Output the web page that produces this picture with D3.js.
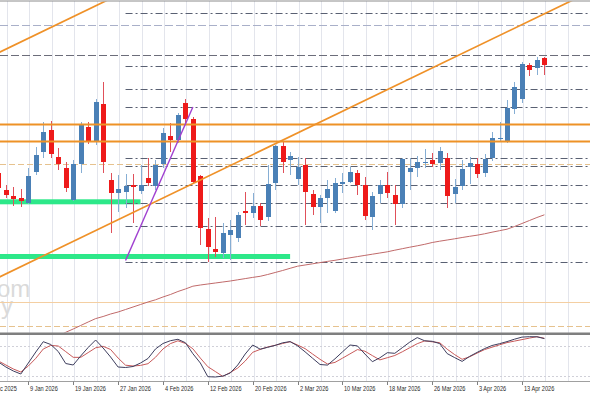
<!DOCTYPE html>
<html>
<head>
<meta charset="utf-8">
<script src="https://cdn.jsdelivr.net/npm/d3@7"></script>
<style>
  html, body { margin: 0; padding: 0; background: #fff; overflow: hidden; }
  svg { display: block; }
</style>
</head>
<body>
<svg id="chart" width="590" height="393"></svg>
<script>
// daily bars, 5 Jan - 16 Apr 2026
const dates = [
  '2026-01-05','2026-01-06','2026-01-07','2026-01-08','2026-01-09',
  '2026-01-12','2026-01-13','2026-01-14','2026-01-15','2026-01-16',
  '2026-01-19','2026-01-20','2026-01-21','2026-01-22','2026-01-23',
  '2026-01-26','2026-01-27','2026-01-28','2026-01-29','2026-01-30',
  '2026-02-02','2026-02-03','2026-02-04','2026-02-05','2026-02-06',
  '2026-02-09','2026-02-10','2026-02-11','2026-02-12','2026-02-13',
  '2026-02-16','2026-02-17','2026-02-18','2026-02-19','2026-02-20',
  '2026-02-23','2026-02-24','2026-02-25','2026-02-26','2026-02-27',
  '2026-03-02','2026-03-03','2026-03-04','2026-03-05','2026-03-06',
  '2026-03-09','2026-03-10','2026-03-11','2026-03-12','2026-03-13',
  '2026-03-16','2026-03-17','2026-03-18','2026-03-19','2026-03-20',
  '2026-03-23','2026-03-24','2026-03-25','2026-03-26','2026-03-27',
  '2026-03-30','2026-03-31','2026-04-01','2026-04-02','2026-04-03',
  '2026-04-06','2026-04-07','2026-04-08','2026-04-09','2026-04-10',
  '2026-04-13','2026-04-14','2026-04-15','2026-04-16'
];
const open = [327,310,304,302,297, 328,348,370,343,332, 300,336,373,358,396, 320,307,308,315,309,
  322,314,336,364,360, 397,381,324,271,251, 247,265,262,289,287, 294,283,317,354,340,
  321,335,306,293,302, 289,316,318,327,315, 283,306,315,305,296, 328,332,337,340,337,
  342,306,314,333,336, 327,342,361,359,391, 401,435,432,442];
const high = [332,315,313,311,332, 353,378,379,352,338, 340,378,378,401,418, 327,325,326,326,335,
  342,340,372,377,387, 401,383,325,282,283, 277,280,288,308,307, 297,335,355,358,348,
  343,342,310,305,320, 322,327,333,330,323, 308,320,328,315,342, 342,344,351,347,353,
  347,321,340,343,342, 346,368,378,400,418, 438,437,443,443];
const low = [308,302,294,293,296, 325,342,342,330,308, 299,327,356,355,327, 267,288,292,277,306,
  314,310,332,348,357, 377,316,255,238,243, 242,240,258,275,282, 274,279,310,327,325,
  315,275,285,277,287, 287,307,317,305,280, 270,297,302,275,292, 310,323,332,333,330,
  292,297,310,316,322, 323,339,359,357,386, 397,424,425,425];
const close = [312,305,301,299,324, 345,368,346,336,312, 336,375,359,398,338, 307,311,314,313,315,
  317,335,367,360,385, 381,318,272,253,248, 267,270,285,287,294, 280,316,354,338,344,
  333,308,293,302,311, 317,318,328,315,284, 304,315,307,296,341, 332,338,338,336,349,
  304,313,331,337,326, 341,362,362,392,413, 436,430,440,435];

// slow moving average
const maLine = [136,139.5,143,146.5,150,153.5,157,160.5,164,167.7,
  171,174.5,178,181.4,183.5, 186,188,190.5,193,195.5, 198,200.2,203,205.5,208.5,
  211,213.8,215,216,217, 218,219,220.2,221.4,222.6, 223.7,225.5,227.5,229.5,231.7,
  233.8,235,236.2,237.4,238.6, 239.7,241,242.2,243.4,244.6, 245.8,247,248.2,249.8,251.3,
  252.8,254.2,255.7,257.5,258.8, 260,261.2,262.5,263.7,264.8, 266.2,267.8,269.3,270.8,273.5,
  276.5,279.5,282.5,285.2];

// stochastic
const stochK = [47,37,29,23,45, 67,87.6,82,68,44, 41,59,76,91,75, 57,37,36,38,45,
  54,73,84,89.6,92.4, 85.6,63.6,45,17.6,17, 18.8,25,41,63,81, 72.6,76.4,80.2,85.4,87.8,
  79.4,67.4,54.6,42,40.8, 53.4,67.2,81,79.2,63, 47.6,55.4,65.6,64.4,75.6, 86.8,95.8,89.4,88.4,83.8,
  63.8,55.8,48.2,58.2,66.2, 73.8,80,83.6,87.8,92.6, 96.8,97.6,97.4,93.8];
const stochD = [49,41,33,27,39, 54.4,73,80.2,79,67.8, 56.4,56.2,65.8,75.4,78.4, 72,55,40.6,39,40.2,
  43.6,56.4,73,83.8,89.4, 84.2,73.4,54.8,37.6,28, 18.2,26,35,49,66.4, 72.2,77,80.4,84,87.6,
  81,73.8,63,52.4,43, 46.2,54.6,63.2,71.8,68.6, 59.8,51.2,55.6,60,67.4, 75.6,83.6,89.2,87.4,85.6,
  72.6,61.8,52.4,57.4,64.8, 71.8,76.6,81.4,85.8,88.8, 91.8,94.8,97.6,94.4];
const stochLevels = [80, 20];

// date axis
const tickLabels = ['31 Dec 2025','9 Jan 2026','19 Jan 2026','27 Jan 2026','4 Feb 2026','12 Feb 2026',
  '20 Feb 2026','2 Mar 2026','10 Mar 2026','18 Mar 2026','26 Mar 2026','3 Apr 2026','13 Apr 2026'];
const tickIndex = [-2, 4, 10, 16, 22, 28, 34, 40, 46, 52, 58, 64, 70];

// drawn objects (bar index, price)
const channelUpper = [[0, 447.2], [73, 710.9]];
const channelLower = [[0, 222.5], [73, 486.2]];
const fibLine = [[17, 239.5], [26, 393]];
const fibStart = 17;
const fibLevels = [487.3, 434, 410.7, 392.7, 341.7, 334, 315.5, 296.7, 274.5, 238.5];
const orangeLevels = [376, 359.3];
const dashedLevels = [475, 444.5];
const tanSolid = [198.3];
const tanDashed = [335.7, 174.3];
const zoneEnd = [19, 39];
const zoneTop = [300.7, 246];
const zoneBottom = [295.7, 241];

const n = dates.length;
const svg = d3.select('#chart');

const x = d3.scaleLinear().domain([0, n - 1]).range([-1.6, 544.4]);
const y = d3.scaleLinear().domain([167, 500]).range([333, 0]);
const yo = d3.scaleLinear().domain([0, 100]).range([385.5, 335.5]);

const defs = svg.append('defs');
defs.append('clipPath').attr('id', 'main-clip')
  .append('rect').attr('x', 0).attr('y', 1.5).attr('width', 590).attr('height', 331);
defs.append('clipPath').attr('id', 'osc-clip')
  .append('rect').attr('x', 0).attr('y', 335).attr('width', 590).attr('height', 46);

svg.append('rect').attr('width', 590).attr('height', 393).attr('fill', '#fff');

// vertical grid, every 3 bars
const gridIdx = d3.range(-2, 82, 3);
svg.append('g').selectAll('line')
  .data(gridIdx)
  .join('line')
  .attr('x1', (d) => Math.round(x(d)) + 1.5)
  .attr('x2', (d) => Math.round(x(d)) + 1.5)
  .attr('y1', 1)
  .attr('y2', 381)
  .attr('stroke', '#e3e5ec')
  .attr('stroke-width', 1);

const main = svg.append('g').attr('clip-path', 'url(#main-clip)');

// watermark
main.append('text').attr('x', -3).attr('y', 297).text('om')
  .style('font', '24px "Liberation Sans", Arial, sans-serif').attr('fill', '#dadada');
main.append('text').attr('x', 1).attr('y', 314).text('y')
  .style('font', '24px "Liberation Sans", Arial, sans-serif').attr('fill', '#dadada');

// green zones
main.append('g').selectAll('rect')
  .data(zoneEnd)
  .join('rect')
  .attr('x', -5)
  .attr('y', (d, i) => y(zoneTop[i]))
  .attr('width', (d) => x(d) + 5)
  .attr('height', (d, i) => y(zoneBottom[i]) - y(zoneTop[i]))
  .attr('fill', '#2de889');

const hline = (g, levels, x0, color, dash, w) => {
  g.selectAll(null)
    .data(levels)
    .join('line')
    .attr('x1', x0)
    .attr('x2', 590)
    .attr('y1', (d) => Math.round(y(d)) + 0.5)
    .attr('y2', (d) => Math.round(y(d)) + 0.5)
    .attr('stroke', color)
    .attr('stroke-width', w)
    .attr('stroke-dasharray', dash);
};

const levelsG = main.append('g');
hline(levelsG, tanSolid, 0, '#f4cfa2', null, 1);
hline(levelsG, tanDashed, 0, '#e6c28e', '6,3', 1);
hline(levelsG, dashedLevels.slice(0, 1), 0, '#a9b0c9', '8,3', 1);
hline(levelsG, dashedLevels.slice(1), 0, '#6c6d7a', '8,3', 1);
hline(levelsG, fibLevels, x(fibStart), '#596072', '7,3,2,3', 1);

// moving average
main.append('path')
  .datum(maLine)
  .attr('fill', 'none')
  .attr('stroke', '#c06a6a')
  .attr('stroke-width', 1)
  .attr('d', d3.line().x((d, i) => x(i)).y((d) => y(d)));

// candles
const idx = d3.range(n);
const up = (i) => close[i] >= open[i];
const candles = main.append('g');
candles.selectAll('line')
  .data(idx)
  .join('line')
  .attr('x1', (i) => Math.round(x(i)) + 0.5)
  .attr('x2', (i) => Math.round(x(i)) + 0.5)
  .attr('y1', (i) => y(high[i]))
  .attr('y2', (i) => y(low[i]))
  .attr('stroke', (i) => (up(i) ? '#86aed4' : '#e0505a'))
  .attr('stroke-width', 1);
candles.selectAll('rect')
  .data(idx)
  .join('rect')
  .attr('x', (i) => Math.round(x(i)) - 2)
  .attr('y', (i) => y(Math.max(open[i], close[i])))
  .attr('width', 5)
  .attr('height', (i) => Math.max(1, Math.abs(y(open[i]) - y(close[i]))))
  .attr('fill', (i) => (up(i) ? '#4a80b6' : '#ee1a1a'));

// orange levels + channel
hline(main.append('g'), orangeLevels, 0, '#ee9226', null, 2);

const ray = (pts, from, to) => {
  const [[i0, p0], [i1, p1]] = pts;
  const k = (p1 - p0) / (i1 - i0);
  return [[from, p0 + k * (from - i0)], [to, p0 + k * (to - i0)]];
};
const seg = d3.line().x((d) => x(d[0])).y((d) => y(d[1]));
main.append('g').selectAll('path')
  .data([ray(channelUpper, -5, 85), ray(channelLower, -5, 85)])
  .join('path')
  .attr('d', seg)
  .attr('fill', 'none')
  .attr('stroke', '#ef9128')
  .attr('stroke-width', 1.7);

main.append('path')
  .attr('d', seg(fibLine))
  .attr('fill', 'none')
  .attr('stroke', '#a040d0')
  .attr('stroke-width', 1.4);

// frame
svg.append('line').attr('x1', 0).attr('x2', 590).attr('y1', 1).attr('y2', 1)
  .attr('stroke', '#8c8c8c').attr('stroke-width', 1);
svg.append('rect').attr('x', 0).attr('y', 332.5).attr('width', 590).attr('height', 2.5)
  .attr('fill', '#7f7f7f');

// oscillator
const osc = svg.append('g').attr('clip-path', 'url(#osc-clip)');
osc.selectAll('line.lvl')
  .data(stochLevels)
  .join('line')
  .attr('class', 'lvl')
  .attr('x1', 0).attr('x2', 590)
  .attr('y1', (d) => Math.round(yo(d)) + 0.5)
  .attr('y2', (d) => Math.round(yo(d)) + 0.5)
  .attr('stroke', '#d0d0d8')
  .attr('stroke-dasharray', '2,2');
const oscLine = d3.line().x((d, i) => x(i)).y((d) => yo(d));
osc.append('path').datum(stochD).attr('d', oscLine)
  .attr('fill', 'none').attr('stroke', '#c85a5a').attr('stroke-width', 1);
osc.append('path').datum(stochK).attr('d', oscLine)
  .attr('fill', 'none').attr('stroke', '#3e3e5e').attr('stroke-width', 1);

svg.append('line').attr('x1', 0).attr('x2', 590).attr('y1', 381.5).attr('y2', 381.5)
  .attr('stroke', '#a0a0a0');

// date axis
const axis = svg.append('g');
axis.selectAll('line')
  .data(tickIndex)
  .join('line')
  .attr('x1', (d) => Math.round(x(d)) + 0.5)
  .attr('x2', (d) => Math.round(x(d)) + 0.5)
  .attr('y1', 381.5)
  .attr('y2', 385)
  .attr('stroke', '#808080');
axis.selectAll('text')
  .data(tickLabels)
  .join('text')
  .attr('transform', (d, i) => `translate(${Math.round(x(tickIndex[i])) + 2},391) scale(0.75,1)`)
  .style('font', '7.5px "Liberation Sans", Arial, sans-serif')
  .attr('fill', '#2a2a2a')
  .text((d) => d);
</script>
</body>
</html>
